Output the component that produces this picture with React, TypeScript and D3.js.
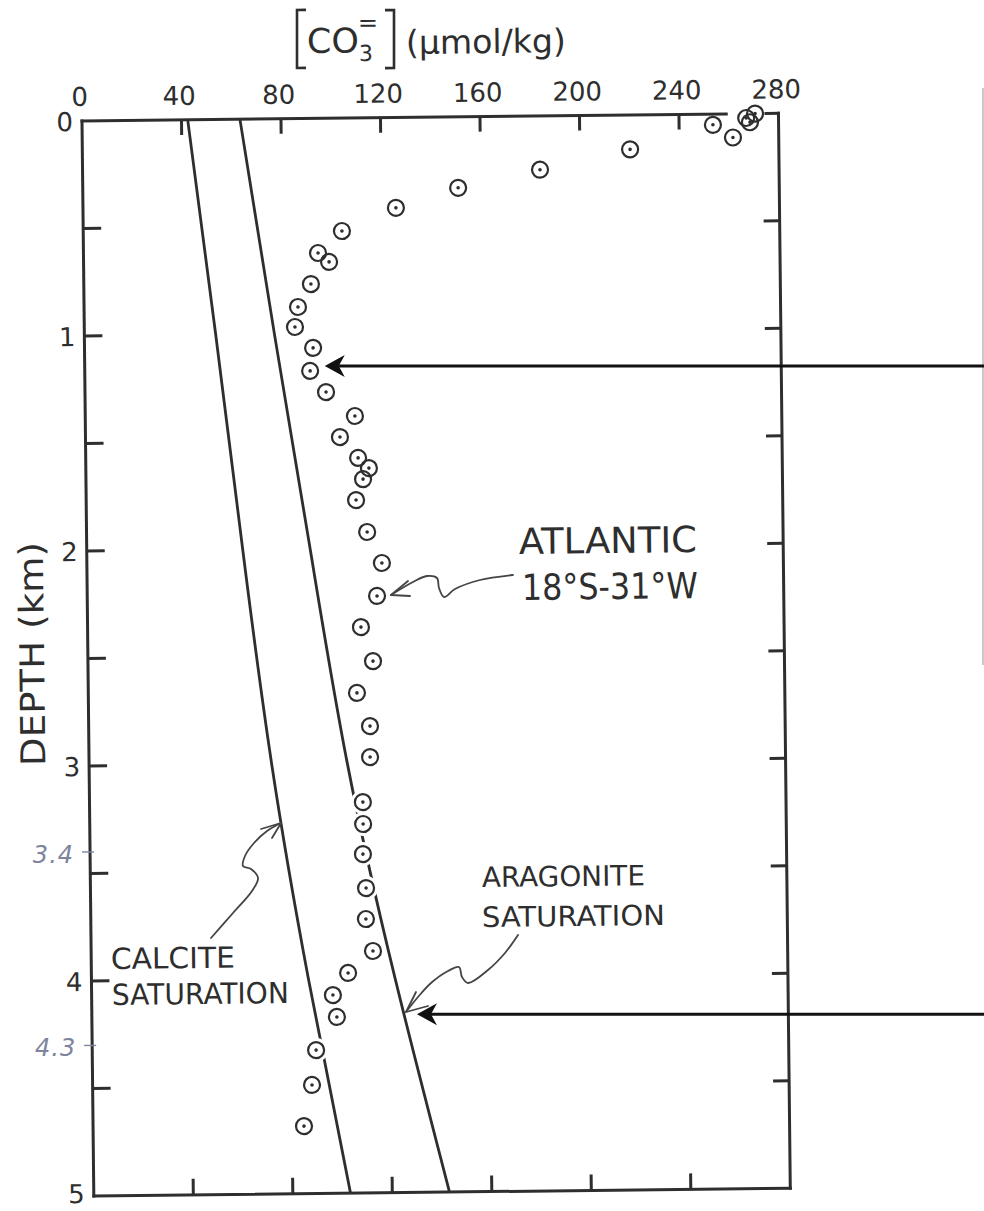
import React from 'react';
import * as d3 from 'd3';

// ---------- data ----------
const xTickValues = [0, 40, 80, 120, 160, 200, 240, 280];
const xInnerTicks = [40, 80, 120, 160, 200, 240];
const yTickValues = [0, 1, 2, 3, 4, 5];
const yInnerTicks = [0.5, 1, 1.5, 2, 2.5, 3, 3.5, 4, 4.5];

// Atlantic station 18°S-31°W : depth (km) and [CO3=] (µmol/kg)
const depthKm = [0.0, 0.02, 0.04, 0.05, 0.11, 0.16, 0.25, 0.33, 0.42, 0.525, 0.626, 0.668, 0.77, 0.876, 0.969, 1.067, 1.174, 1.273, 1.386, 1.483, 1.581, 1.629, 1.68, 1.777, 1.926, 2.071, 2.224, 2.368, 2.527, 2.674, 2.829, 2.973, 3.182, 3.284, 3.424, 3.582, 3.726, 3.875, 3.976, 4.078, 4.18, 4.333, 4.495, 4.686];
const co3 = [270.6, 267, 268.5, 253.6, 261.6, 220.2, 183.9, 150.9, 125.8, 104.0, 94.3, 98.7, 91.3, 86.0, 84.7, 91.9, 90.6, 96.9, 108.4, 102.3, 109.5, 113.8, 111.4, 108.5, 112.8, 118.6, 116.5, 109.9, 114.6, 108.0, 113.1, 113.0, 109.9, 109.9, 109.7, 110.8, 110.6, 113.3, 103.2, 97.0, 98.5, 90.0, 88.2, 84.8];

// saturation curves
const satDepth = [0, 1, 2, 3, 4, 5];
const calciteSat = [42.5, 52.8, 62.7, 73.4, 87.2, 103.2];
const aragoniteSat = [63.5, 76.4, 89.8, 103.8, 122.0, 143.0];

// pointers (value, depth) and hand notes
const pointer1 = { value: 96.5, depth: 1.152 };
const pointer2 = { value: 130.7, depth: 4.171 };
const handNotes = [3.4, 4.3];

const W = 984;
const H = 1211;
const OX = 82;
const OY = 121;
const TILT_DEG = 0.63;
const INK = '#2e2e2e';
const FONT = "'DejaVu Sans', sans-serif";

export default function App() {
  const x = d3.scaleLinear().domain([0, 280]).range([0, 696.5]);
  const y = d3.scaleLinear().domain([0, 5]).range([0, 1075]);
  const th = (TILT_DEG * Math.PI) / 180;
  const c = Math.cos(th);
  const s = Math.sin(th);
  const toScreen = (v: number, d: number): [number, number] => {
    const lx = x(v);
    const ly = y(d);
    return [OX + lx * c + ly * s, OY - lx * s + ly * c];
  };
  const loc = (sx: number, sy: number): [number, number] => {
    const dx = sx - OX;
    const dy = sy - OY;
    return [dx * c - dy * s, dx * s + dy * c];
  };

  const satLine = d3
    .line<[number, number]>()
    .x((p) => x(p[1]))
    .y((p) => y(p[0]))
    .curve(d3.curveNatural);
  const calcPath = satLine(satDepth.map((d, i) => [d, calciteSat[i]]) as [number, number][]) || '';
  const aragPath = satLine(satDepth.map((d, i) => [d, aragoniteSat[i]]) as [number, number][]) || '';

  const pts = depthKm.map((d, i) => ({ d, v: co3[i] }));

  const squiggle = d3
    .line<[number, number]>()
    .x((p) => p[0])
    .y((p) => p[1])
    .curve(d3.curveCatmullRom.alpha(0.5));

  const atlSq: [number, number][] = [
    [513, 575], [480, 580], [455, 589], [444, 597], [439, 588], [437, 578], [427, 576], [413, 582], [391, 595],
  ];
  const calSq: [number, number][] = [
    [211, 938], [233, 913], [252, 891], [258, 878], [251, 869], [243, 866], [245, 856], [254, 843], [267, 831], [281, 823],
  ];
  const araSq: [number, number][] = [
    [518, 935], [505, 953], [488, 970], [468, 983], [462, 977], [459, 967], [448, 971], [431, 983], [418, 997], [406, 1012],
  ];

  const textAt = (sx: number, sy: number) => {
    const p = loc(sx, sy);
    return { x: p[0], y: p[1] };
  };

  const p1 = toScreen(pointer1.value, pointer1.depth);
  const p2 = toScreen(pointer2.value, pointer2.depth);
  const arrowHead = (tx: number, ty: number) =>
    `M${tx},${ty} L${tx + 20},${ty - 11} L${tx + 14},${ty} L${tx + 20},${ty + 11} Z`;

  const lb = loc(297, 10);
  const lb2 = loc(297, 68);
  const rb = loc(394, 10);
  const rb2 = loc(394, 68);

  return (
    <svg
      width={W}
      height={H}
      viewBox={`0 0 ${W} ${H}`}
      style={{ position: 'absolute', left: 0, top: 0, background: '#fff', display: 'block' }}
      fontFamily={FONT}
    >
      <rect x={0} y={0} width={W} height={H} fill="#fff" />
      {/* faint scan edge on the right */}
      <line x1={983} y1={88} x2={983} y2={665} stroke="#c9c9c9" strokeWidth={2} />

      <g transform={`translate(${OX},${OY}) rotate(${-TILT_DEG})`}>
        {/* saturation curves */}
        <path d={calcPath} fill="none" stroke={INK} strokeWidth={2.8} />
        <path d={aragPath} fill="none" stroke={INK} strokeWidth={2.8} />

        {/* white halos that break the curves around the samples */}
        {pts.map((p, i) => (
          <circle key={'h' + i} cx={x(p.v)} cy={y(p.d)} r={12} fill="#fff" />
        ))}

        {/* frame */}
        <g stroke={INK} strokeWidth={3} fill="none" strokeLinecap="square">
          <line x1={x(0)} y1={y(0)} x2={x(259)} y2={y(0)} />
          <line x1={x(275)} y1={y(0)} x2={x(280)} y2={y(0)} />
          <line x1={x(0)} y1={y(0)} x2={x(0)} y2={y(5)} />
          <line x1={x(280)} y1={y(0)} x2={x(280)} y2={y(5)} />
          <line x1={x(0)} y1={y(5)} x2={x(280)} y2={y(5)} />
        </g>
        <g stroke={INK} strokeWidth={3}>
          {xInnerTicks.map((t) => (
            <line key={'tt' + t} x1={x(t)} y1={y(0)} x2={x(t)} y2={y(0) + 15} />
          ))}
          {xInnerTicks.map((t) => (
            <line key={'bt' + t} x1={x(t)} y1={y(5)} x2={x(t)} y2={y(5) - 16} />
          ))}
          {yInnerTicks.map((t) => (
            <line key={'lt' + t} x1={x(0)} y1={y(t)} x2={x(0) + 18} y2={y(t)} />
          ))}
          {yInnerTicks.map((t) => (
            <line key={'rt' + t} x1={x(280)} y1={y(t)} x2={x(280) - 16} y2={y(t)} />
          ))}
        </g>

        {/* tick labels */}
        <g fill={INK} fontSize={26}>
          {xTickValues.map((t) => (
            <text key={'xl' + t} x={x(t) - 2} y={-15} textAnchor="middle">
              {t}
            </text>
          ))}
          {yTickValues.map((t) => (
            <text key={'yl' + t} x={-9} y={y(t) + (t === 5 ? 7 : 10)} textAnchor="end" fontSize={26}>
              {t}
            </text>
          ))}
        </g>

        {/* axis titles */}
        <path
          d={`M${lb[0] + 9},${lb[1]} L${lb[0]},${lb[1]} L${lb2[0]},${lb2[1]} L${lb2[0] + 9},${lb2[1]}`}
          fill="none"
          stroke={INK}
          strokeWidth={2.6}
        />
        <path
          d={`M${rb[0] - 9},${rb[1]} L${rb[0]},${rb[1]} L${rb2[0]},${rb2[1]} L${rb2[0] - 9},${rb2[1]}`}
          fill="none"
          stroke={INK}
          strokeWidth={2.6}
        />
        <text {...textAt(307, 53)} fontSize={34} fill={INK} textLength={52} lengthAdjust="spacingAndGlyphs">
          CO
        </text>
        <text {...textAt(359, 61)} fontSize={22} fill={INK}>
          3
        </text>
        <text {...textAt(358, 31)} fontSize={24} fill={INK}>
          =
        </text>
        <text {...textAt(406, 54)} fontSize={33} fill={INK} textLength={160} lengthAdjust="spacingAndGlyphs">
          (μmol/kg)
        </text>
        {(() => {
          const p = loc(44, 654);
          return (
            <text
              transform={`translate(${p[0]},${p[1]}) rotate(-90)`}
              textAnchor="middle"
              fontSize={34}
              fill={INK}
              textLength={224}
              lengthAdjust="spacingAndGlyphs"
            >
              DEPTH (km)
            </text>
          );
        })()}

        {/* annotations */}
        <g fill={INK}>
          <text {...textAt(519, 554)} fontSize={36} textLength={178} lengthAdjust="spacingAndGlyphs">
            ATLANTIC
          </text>
          <text {...textAt(522, 600)} fontSize={36} textLength={176} lengthAdjust="spacingAndGlyphs">
            18°S-31°W
          </text>
          <text {...textAt(111, 969)} fontSize={29} textLength={124} lengthAdjust="spacingAndGlyphs">
            CALCITE
          </text>
          <text {...textAt(112, 1005)} fontSize={29} textLength={177} lengthAdjust="spacingAndGlyphs">
            SATURATION
          </text>
          <text {...textAt(482, 887)} fontSize={28} textLength={163} lengthAdjust="spacingAndGlyphs">
            ARAGONITE
          </text>
          <text {...textAt(482, 927)} fontSize={28} textLength={183} lengthAdjust="spacingAndGlyphs">
            SATURATION
          </text>
        </g>

        {/* samples */}
        {pts.map((p, i) => (
          <g key={'p' + i}>
            <circle cx={x(p.v)} cy={y(p.d)} r={8} fill="none" stroke={INK} strokeWidth={2.2} />
            <circle cx={x(p.v)} cy={y(p.d)} r={1.8} fill={INK} />
          </g>
        ))}
      </g>

      {/* hand-drawn callouts (screen space) */}
      <g fill="none" stroke="#444" strokeWidth={1.8} strokeLinecap="round" strokeLinejoin="round">
        <path d={squiggle(atlSq) || ''} />
        <path d="M408,581 L391,595 L410,596" />
        <path d={squiggle(calSq) || ''} />
        <path d="M261,829 L281,823 L272,838" />
        <path d={squiggle(araSq) || ''} />
        <path d="M416,992 L406,1012 L428,1006" />
      </g>

      {/* horizontal pointers */}
      <g>
        <line x1={p1[0] + 14} y1={p1[1]} x2={W} y2={p1[1]} stroke="#111" strokeWidth={3} />
        <path d={arrowHead(p1[0], p1[1])} fill="#111" />
        <line x1={p2[0] + 14} y1={p2[1]} x2={W} y2={p2[1]} stroke="#111" strokeWidth={3} />
        <path d={arrowHead(p2[0], p2[1])} fill="#111" />
      </g>

      {/* pencil notes */}
      <g fill="#7d849c" stroke="#7d849c">
        {handNotes.map((d) => {
          const [sx, sy] = toScreen(0, d);
          return (
            <g key={'hn' + d}>
              <line x1={sx - 8} y1={sy} x2={sx + 4} y2={sy} strokeWidth={1.4} />
              <text
                x={sx - 16}
                y={sy + 11}
                textAnchor="end"
                fontSize={24}
                fontStyle="italic"
                stroke="none"
                fontWeight={300}
                letterSpacing={1}
              >
                {d}
              </text>
            </g>
          );
        })}
      </g>
    </svg>
  );
}
